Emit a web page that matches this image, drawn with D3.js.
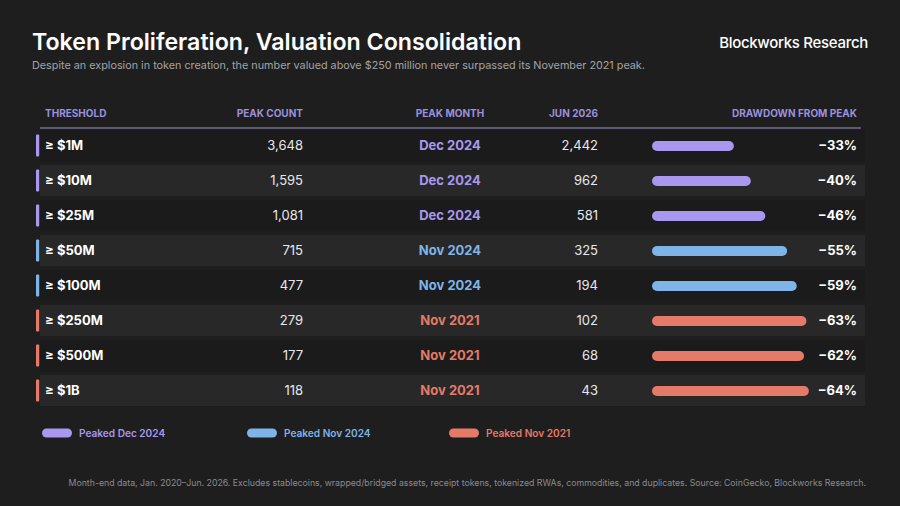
<!DOCTYPE html>
<html>
<head>
<meta charset="utf-8">
<script src="https://cdn.jsdelivr.net/npm/d3@7"></script>
<style>
  html, body { margin: 0; padding: 0; background: #1e1e1f; }
  svg { display: block; font-family: Inter, "Noto Sans", sans-serif; }
</style>
</head>
<body>
<svg width="900" height="506"></svg>
<script>
// table data
var thresholds = ["≥ $1M", "≥ $10M", "≥ $25M", "≥ $50M", "≥ $100M", "≥ $250M", "≥ $500M", "≥ $1B"];
var peakCounts = [3648, 1595, 1081, 715, 477, 279, 177, 118];
var peakMonths = ["Dec 2024", "Dec 2024", "Dec 2024", "Nov 2024", "Nov 2024", "Nov 2021", "Nov 2021", "Nov 2021"];
var jun2026 = [2442, 962, 581, 325, 194, 102, 68, 43];
var drawdowns = [33, 40, 46, 55, 59, 63, 62, 64];
var legendMonths = ["Dec 2024", "Nov 2024", "Nov 2021"];
var headers = ["THRESHOLD", "PEAK COUNT", "PEAK MONTH", "JUN 2026", "DRAWDOWN FROM PEAK"];

function main() {
    var svg = d3.select("svg");
    var width = +svg.attr("width"), height = +svg.attr("height");

    svg.append("rect").attr("width", width).attr("height", height).attr("fill", "#1e1e1f");

    var color = d3.scaleOrdinal().domain(legendMonths).range(["#a898f0", "#7fb4e8", "#e57a68"]);
    var fmt = d3.format(",");

    // title block
    svg.append("text").attr("x", 32).attr("y", 50)
        .attr("font-size", "23.2px").attr("font-weight", 600).attr("fill", "#ffffff")
        .text("Token Proliferation, Valuation Consolidation");
    svg.append("text").attr("x", 32).attr("y", 69)
        .attr("font-size", "10.8px").attr("fill", "#a3a3a6")
        .text("Despite an explosion in token creation, the number valued above $250 million never surpassed its November 2021 peak.");
    svg.append("text").attr("x", 868).attr("y", 48).attr("text-anchor", "end")
        .attr("font-size", "15px").attr("font-weight", 500).attr("fill", "#ffffff")
        .attr("letter-spacing", "-0.3px")
        .text("Blockworks Research");

    // rows
    var y = d3.scaleBand().domain(thresholds).range([128, 408]).paddingInner(0.11).paddingOuter(0.055);
    var bar = d3.scaleLinear().domain([0, 100]).range([2, 244]);

    var colX = [45, 303, 450, 598, 857];
    var colAnchor = ["start", "end", "middle", "end", "end"];

    svg.append("g").selectAll("text").data(headers).enter().append("text")
        .attr("x", (d, i) => colX[i]).attr("y", 117)
        .attr("text-anchor", (d, i) => colAnchor[i])
        .attr("font-size", "10px").attr("font-weight", 700).attr("fill", "#9b90dc")
        .text(d => d);

    svg.append("line").attr("x1", 40).attr("x2", 861).attr("y1", 128).attr("y2", 128)
        .attr("stroke", "#736d92").attr("stroke-width", 1.5);

    var row = svg.append("g").selectAll("g").data(thresholds).enter().append("g")
        .attr("transform", d => "translate(0," + y(d) + ")");
    var bh = y.bandwidth();

    row.append("rect").attr("x", 40).attr("width", 825).attr("height", bh)
        .attr("fill", (d, i) => i % 2 ? "#282829" : "#1b1b1c");

    row.append("rect").attr("x", 36).attr("y", bh / 2 - 11).attr("width", 3.2).attr("height", 22)
        .attr("rx", 1).attr("fill", (d, i) => color(peakMonths[i]));

    row.append("text").attr("x", colX[0]).attr("y", bh / 2).attr("dy", "0.36em")
        .attr("font-size", "13px").attr("font-weight", 700).attr("fill", "#ffffff")
        .text(d => d);

    row.append("text").attr("x", colX[1]).attr("y", bh / 2).attr("dy", "0.36em")
        .attr("text-anchor", "end").attr("font-size", "13px").attr("fill", "#e8e8ea")
        .text((d, i) => fmt(peakCounts[i]));

    row.append("text").attr("x", colX[2]).attr("y", bh / 2).attr("dy", "0.36em")
        .attr("text-anchor", "middle").attr("font-size", "13px").attr("font-weight", 700)
        .attr("fill", (d, i) => color(peakMonths[i]))
        .text((d, i) => peakMonths[i]);

    row.append("text").attr("x", colX[3]).attr("y", bh / 2).attr("dy", "0.36em")
        .attr("text-anchor", "end").attr("font-size", "13px").attr("fill", "#e8e8ea")
        .text((d, i) => fmt(jun2026[i]));

    row.append("rect").attr("x", 652).attr("y", bh / 2 - 4.5).attr("height", 10).attr("rx", 5)
        .attr("width", (d, i) => bar(drawdowns[i]))
        .attr("fill", (d, i) => color(peakMonths[i]));

    row.append("text").attr("x", colX[4]).attr("y", bh / 2).attr("dy", "0.36em")
        .attr("text-anchor", "end").attr("font-size", "13px").attr("font-weight", 700).attr("fill", "#ffffff")
        .text((d, i) => "\u2212" + drawdowns[i] + "%");

    // legend
    var legX = [42, 247, 449];
    var leg = svg.append("g").selectAll("g").data(legendMonths).enter().append("g")
        .attr("transform", (d, i) => "translate(" + legX[i] + ",433)");
    leg.append("rect").attr("y", -4.5).attr("width", 30).attr("height", 9).attr("rx", 4.5)
        .attr("fill", d => color(d));
    leg.append("text").attr("x", 37).attr("dy", "0.35em")
        .attr("font-size", "10.1px").attr("font-weight", 600).attr("fill", d => color(d))
        .text(d => "Peaked " + d);

    // footer
    svg.append("text").attr("x", 866).attr("y", 486).attr("text-anchor", "end")
        .attr("font-size", "8.75px").attr("fill", "#8b8b8f")
        .text("Month-end data, Jan. 2020\u2013Jun. 2026. Excludes stablecoins, wrapped/bridged assets, receipt tokens, tokenized RWAs, commodities, and duplicates. Source: CoinGecko, Blockworks Research.");
}
main();
</script>
</body>
</html>
